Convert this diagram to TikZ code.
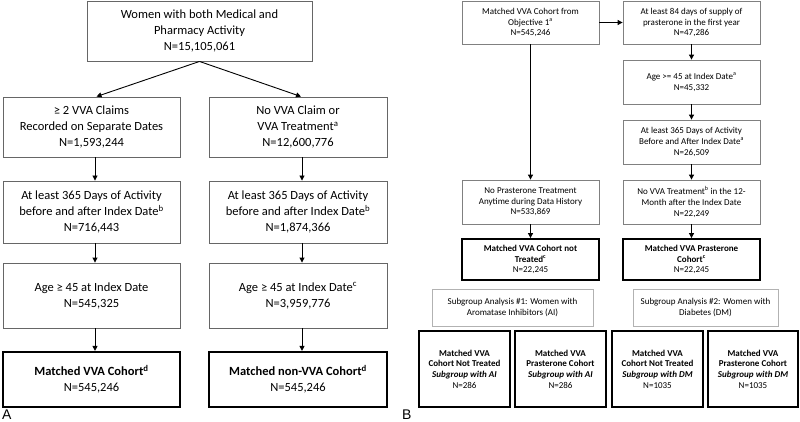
\documentclass[tikz,border=0pt]{standalone}
\usepackage{fontspec}
\setmainfont{Carlito}
\usetikzlibrary{arrows.meta}
\newfontfamily\labfont{Liberation Sans}
\begin{document}
\begin{tikzpicture}[x=1pt,y=-1pt,
  boxA/.style={draw=black!60, line width=0.9pt, align=center, inner sep=0pt,
    font=\fontsize{12.5}{16}\selectfont},
  thickA/.style={draw=black, line width=2.2pt, align=center, inner sep=0pt,
    font=\fontsize{12.5}{16}\selectfont\bfseries},
  boxB/.style={draw=black!50, line width=0.8pt, align=center, inner sep=0pt,
    font=\fontsize{9}{10.6}\selectfont},
  thickB/.style={draw=black, line width=1.8pt, align=center, inner sep=0pt,
    font=\fontsize{9}{10.6}\selectfont\bfseries},
  subB/.style={draw=black!30, line width=0.8pt, align=center, inner sep=0pt,
    font=\fontsize{9}{10.6}\selectfont},
  arr/.style={line width=0.9pt, -{Triangle[length=5pt,width=5pt]}},
  plab/.style={font=\labfont\fontsize{14}{14}\selectfont, inner sep=0pt, anchor=base west}
]
\useasboundingbox (0,0) rectangle (800,422);

% ---------- Panel A ----------
\node[boxA, minimum width=225pt, minimum height=60pt] (top) at (199.5,31)
  {Women with both Medical and\\Pharmacy Activity\\N=15,105,061};

\node[boxA, minimum width=177pt, minimum height=60pt] (l2) at (91.5,127)
  {≥ 2 VVA Claims\\Recorded on Separate Dates\\N=1,593,244};
\node[boxA, minimum width=178pt, minimum height=60pt] (r2) at (298,127)
  {No VVA Claim or\\VVA Treatment\textsuperscript{a}\\N=12,600,776};

\node[boxA, minimum width=177pt, minimum height=62pt] (l3) at (91.5,212)
  {At least 365 Days of Activity\\before and after Index Date\textsuperscript{b}\\N=716,443};
\node[boxA, minimum width=178pt, minimum height=62pt] (r3) at (298,212)
  {At least 365 Days of Activity\\before and after Index Date\textsuperscript{b}\\N=1,874,366};

\node[boxA, minimum width=177pt, minimum height=65pt] (l4) at (91.5,295.5)
  {Age ≥ 45 at Index Date\\N=545,325};
\node[boxA, minimum width=178pt, minimum height=65pt] (r4) at (298,295.5)
  {Age ≥ 45 at Index Date\textsuperscript{c}\\N=3,959,776};

\node[thickA, minimum width=177pt, minimum height=55pt] (l5) at (91.5,379.5)
  {Matched VVA Cohort\textsuperscript{d}\\\mdseries N=545,246};
\node[thickA, minimum width=178pt, minimum height=55pt] (r5) at (298,379.5)
  {Matched non-VVA Cohort\textsuperscript{d}\\\mdseries N=545,246};

\draw[arr] (top.south) -- ([xshift=5pt]l2.north);
\draw[arr] (top.south) -- ([xshift=3pt]r2.north);
\foreach \a/\b in {l2/l3,l3/l4,l4/l5}
  \draw[arr] ([xshift=3.5pt]\a.south) -- ([xshift=3.5pt]\b.north);
\foreach \a/\b in {r2/r3,r3/r4,r4/r5}
  \draw[arr] ([xshift=4pt]\a.south) -- ([xshift=4pt]\b.north);

\node[plab] (la) at (2,419.5) {A};

% ---------- Panel B ----------
\node[boxB, minimum width=137pt, minimum height=43pt] (b1) at (530.5,22.5)
  {Matched VVA Cohort from\\Objective 1\textsuperscript{a}\\N=545,246};
\node[boxB, minimum width=137pt, minimum height=43pt] (b2) at (691.5,22.5)
  {At least 84 days of supply of\\prasterone in the first year\\N=47,286};
\node[boxB, minimum width=137pt, minimum height=44pt] (b3) at (691.5,82)
  {Age >= 45 at Index Date\textsuperscript{a}\\N=45,332};
\node[boxB, minimum width=137pt, minimum height=44pt] (b4) at (691.5,142)
  {At least 365 Days of Activity\\Before and After Index Date\textsuperscript{a}\\N=26,509};
\node[boxB, minimum width=137pt, minimum height=44pt] (b5) at (691.5,202)
  {No VVA Treatment\textsuperscript{b} in the 12-\\Month after the Index Date\\N=22,249};
\node[boxB, minimum width=137pt, minimum height=44pt] (bl) at (530.5,202)
  {No Prasterone Treatment\\Anytime during Data History\\N=533,869};

\node[thickB, minimum width=137pt, minimum height=41pt] (bt1) at (530.5,259.5)
  {Matched VVA Cohort not\\Treated\textsuperscript{c}\\\mdseries N=22,245};
\node[thickB, minimum width=137pt, minimum height=41pt] (bt2) at (691.5,259.5)
  {Matched VVA Prasterone\\Cohort\textsuperscript{c}\\\mdseries N=22,245};

\node[subB, minimum width=161pt, minimum height=37pt] (s1) at (512.5,307.5)
  {Subgroup Analysis \#1: Women with\\Aromatase Inhibitors (AI)};
\node[subB, minimum width=145pt, minimum height=37pt] (s2) at (705.5,307.5)
  {Subgroup Analysis \#2: Women with\\Diabetes (DM)};

\node[thickB, minimum width=91pt, minimum height=76pt] (c1) at (464.5,369)
  {Matched VVA\\Cohort Not Treated\\\itshape Subgroup with AI\\\mdseries\upshape N=286};
\node[thickB, minimum width=91pt, minimum height=76pt] (c2) at (560.5,369)
  {Matched VVA\\Prasterone Cohort\\\itshape Subgroup with AI\\\mdseries\upshape N=286};
\node[thickB, minimum width=91pt, minimum height=76pt] (c3) at (657.5,369)
  {Matched VVA\\Cohort Not Treated\\\itshape Subgroup with DM\\\mdseries\upshape N=1035};
\node[thickB, minimum width=90pt, minimum height=76pt] (c4) at (753,369)
  {Matched VVA\\Prasterone Cohort\\\itshape Subgroup with DM\\\mdseries\upshape N=1035};

\draw[arr] (b1.east) -- (b2.west);
\draw[arr] (b1.south) -- (bl.north);
\draw[arr] (b2.south) -- (b3.north);
\draw[arr] (b3.south) -- (b4.north);
\draw[arr] (b4.south) -- (b5.north);
\draw[arr] (bl.south) -- (bt1.north);
\draw[arr] (b5.south) -- (bt2.north);

\node[plab] (lb) at (402,419.5) {B};
\end{tikzpicture}
\end{document}
